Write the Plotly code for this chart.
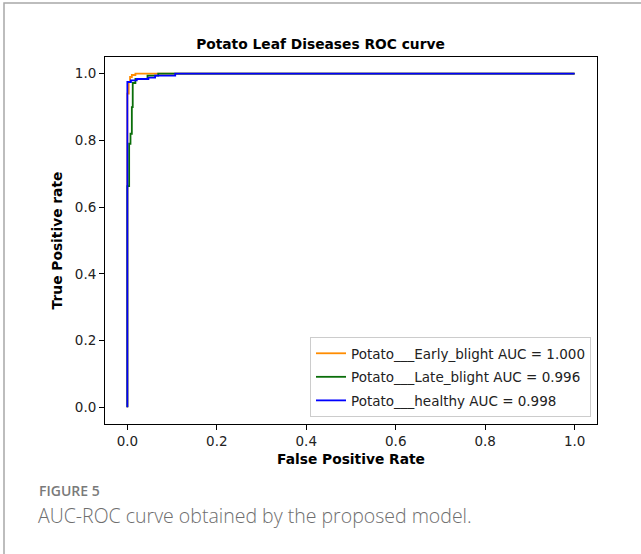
import plotly.graph_objects as go

# ROC data
early_fpr = [0, 0, 0.003, 0.003, 0.006, 0.006, 0.010, 0.010, 0.018, 0.018, 1.0]
early_tpr = [0, 0.94, 0.94, 0.975, 0.975, 0.99, 0.99, 0.996, 0.996, 1.0, 1.0]

late_fpr = [0, 0, 0.004, 0.004, 0.007, 0.007, 0.010, 0.010, 0.012, 0.012, 0.018, 0.018, 0.045, 0.045, 0.069, 0.069, 1.0]
late_tpr = [0, 0.663, 0.663, 0.79, 0.79, 0.82, 0.82, 0.90, 0.90, 0.972, 0.972, 0.984, 0.984, 0.994, 0.994, 1.0, 1.0]

healthy_fpr = [0, 0, 0.008, 0.008, 0.021, 0.021, 0.047, 0.047, 0.062, 0.062, 0.107, 0.107, 1.0]
healthy_tpr = [0, 0.975, 0.975, 0.98, 0.98, 0.984, 0.984, 0.988, 0.988, 0.994, 0.994, 1.0, 1.0]

labels = ["Potato___Early_blight AUC = 1.000",
          "Potato___Late_blight AUC = 0.996",
          "Potato___healthy AUC = 0.998"]
colors = ["#FF8C00", "#0a6e0a", "#0000FF"]
tick_vals = [0.0, 0.2, 0.4, 0.6, 0.8, 1.0]
tick_text = ["0.0", "0.2", "0.4", "0.6", "0.8", "1.0"]

W, H = 641, 554
L, R, T, B = 105, 44, 57, 130
pw, ph = W - L - R, H - T - B

def px(x):  # page x -> paper
    return (x - L) / pw

def py(y):  # page y -> paper
    return (H - B - y) / ph

FONT = "DejaVu Sans"
fig = go.Figure()
for i, (fx, ty) in enumerate([(early_fpr, early_tpr), (late_fpr, late_tpr), (healthy_fpr, healthy_tpr)]):
    fig.add_trace(go.Scatter(x=fx, y=ty, mode="lines", name=labels[i],
                             legendgroup=f"g{i}",
                             line=dict(color=colors[i], width=1.8)))

axis_common = dict(showline=True, mirror=True, linecolor="black", linewidth=1,
                   ticks="outside", ticklen=5, tickcolor="black", tickwidth=1,
                   showgrid=False, zeroline=False, automargin=False,
                   tickfont=dict(family=FONT, size=13.5, color="#222"),
                   tickvals=tick_vals, ticktext=tick_text)

fig.update_layout(
    width=W, height=H,
    margin=dict(l=L, r=R, t=T, b=B, autoexpand=False),
    paper_bgcolor="white", plot_bgcolor="white",
    title=dict(text="<b>Potato Leaf Diseases ROC curve</b>", x=px(351), xanchor="center",
               y=1 - 44 / H, yanchor="middle", automargin=False,
               font=dict(family=FONT, size=13.8, color="black")),
    xaxis=dict(range=[-0.05, 1.05], **axis_common,
               title=dict(text="<b>False Positive Rate</b>", standoff=6,
                          font=dict(family=FONT, size=13.8, color="black"))),
    yaxis=dict(range=[-0.05, 1.05], **axis_common,
               title=dict(text="<b>True Positive rate</b>", standoff=8,
                          font=dict(family=FONT, size=13.8, color="black"))),
    legend=dict(x=px(591), y=py(417), xanchor="right", yanchor="bottom",
                bgcolor="rgba(255,255,255,0.8)", bordercolor="#cccccc", borderwidth=1,
                font=dict(family=FONT, size=13.5, color="#222"),
                tracegroupgap=3),
    showlegend=True,
)

# outer figure frame
fig.add_shape(type="rect", xref="paper", yref="paper",
              x0=px(4), x1=px(660), y0=py(580), y1=py(3),
              line=dict(color="#a8a8a8", width=1.5), fillcolor="rgba(0,0,0,0)", layer="above")

fig.add_annotation(text="FIGURE 5", xref="paper", yref="paper", x=px(37), y=py(490),
                   xanchor="left", yanchor="middle", showarrow=False,
                   font=dict(family="Open Sans", size=14, color="#7a7a7a", weight=600))
fig.add_annotation(text="AUC-ROC curve obtained by the proposed model.", xref="paper", yref="paper",
                   x=px(36), y=py(515), xanchor="left", yanchor="middle", showarrow=False,
                   font=dict(family="Open Sans", size=19.5, color="#6e6e6e", weight=300))

fig.write_html("out.html", config={"displayModeBar": False},
               post_script="document.body.style.margin='0';")
